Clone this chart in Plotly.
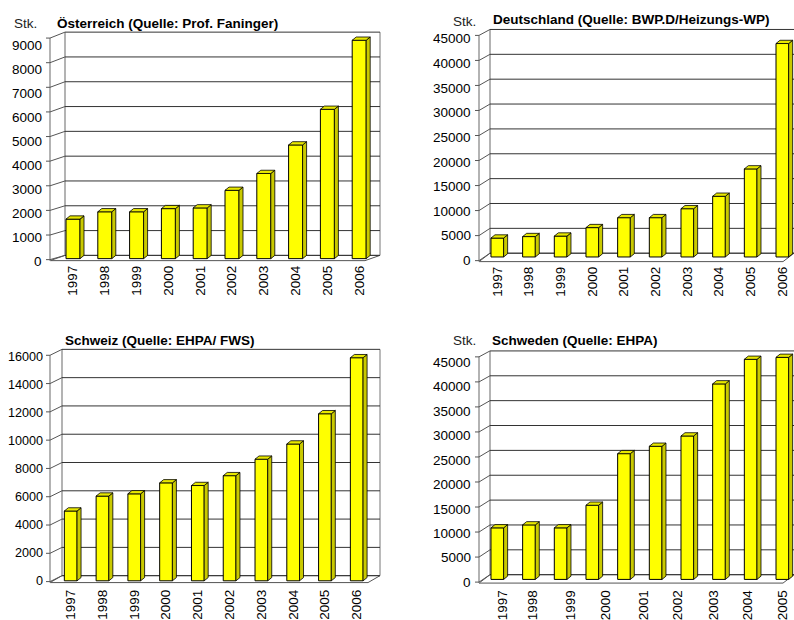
import plotly.graph_objects as go

# ---------------- data ----------------
YEARS = ["1997", "1998", "1999", "2000", "2001", "2002", "2003", "2004", "2005", "2006"]
SE_LABELS = ["1997", "1998", "1999", "2000", "2001", "2002", "2003", "2004", "2005"]

AT_VALUES = [1620, 1920, 1920, 2050, 2080, 2800, 3490, 4660, 6120, 8950]
DE_VALUES = [3800, 4100, 4200, 5900, 7900, 7900, 9700, 12200, 17700, 42900]
CH_VALUES = [4960, 6020, 6180, 6960, 6770, 7470, 8640, 9720, 11870, 15850]
SE_VALUES = [10500, 11100, 10500, 15100, 25600, 27100, 29200, 39800, 44800, 45200]

TITLES = [
    "Österreich (Quelle: Prof. Faninger)",
    "Deutschland (Quelle: BWP.D/Heizungs-WP)",
    "Schweiz (Quelle: EHPA/ FWS)",
    "Schweden (Quelle: EHPA)",
]
Y_MAX = [9000, 45000, 16000, 45000]
Y_STEP = [1000, 5000, 2000, 5000]
UNIT = "Stk."

# ---------------- layout geometry (page pixels) ----------------
FW, FH = 794, 620
FONT = "Liberation Sans, Arial, sans-serif"

GEO = [
    dict(front_x=50, wall_x0=65, wall_x1=380, top=31, back0=256.7, floor=262,
         front0=263.3, fronttop=45, bar0=260, c0=73, step=31.8, bw=0.44,
         title_x=55, title_y=22, unit=(12, 22), se=False, ysize=13.5, lab_r=43, stand=0),
    dict(front_x=479, wall_x0=490, wall_x1=794, top=28.3, back0=254.5, floor=263,
         front0=262, fronttop=37.7, bar0=258.3, c0=497.3, step=31.67, bw=0.40,
         title_x=491, title_y=18, unit=(451, 20), se=False, ysize=13.5, lab_r=472, stand=0),
    dict(front_x=50, wall_x0=62, wall_x1=380, top=351.7, back0=580.5, floor=587.5,
         front0=586, fronttop=359.3, bar0=585.7, c0=70.7, step=31.78, bw=0.40,
         title_x=63, title_y=343, unit=None, se=False, ysize=12.6, lab_r=43.5, stand=2),
    dict(front_x=479, wall_x0=490, wall_x1=794, top=353.3, back0=579.5, floor=588,
         front0=587.3, fronttop=365, bar0=584.3, c0=497.3, step=31.67, bw=0.40,
         title_x=490, title_y=343, unit=(451, 343), se=True, ysize=13.5, lab_r=472, stand=2),
]
BAR_PPU = [24.67 / 1000, 5.03 / 1000, 14.23 / 1000, 4.967 / 1000]
SE_TICK_POS = [0.16, 1.1, 2.32, 3.42, 4.63, 5.68, 6.84, 7.89, 9.0]

ALL_VALUES = [AT_VALUES, DE_VALUES, CH_VALUES, SE_VALUES]


def py(p):
    # small vertical correction of the measured page positions
    return p * 1.007 + 1.5


def px_x(p):
    return min(1.0, max(0.0, p / FW))


def px_y(p):
    return min(1.0, max(0.0, 1 - py(p) / FH))


fig = go.Figure()
layout = {}
shapes = []
annotations = []

GRID = "#333333"
WALL = "#9a9a9a"
TXT = dict(family=FONT, size=13.5, color="#000")

for i in range(4):
    g = GEO[i]
    vals = ALL_VALUES[i]
    n = i + 1
    xname = "x" if n == 1 else f"x{n}"
    yname = "y" if n == 1 else f"y{n}"
    xkey = "xaxis" if n == 1 else f"xaxis{n}"
    ykey = "yaxis" if n == 1 else f"yaxis{n}"
    ymax, step = Y_MAX[i], Y_STEP[i]

    dom_bot = g["floor"] + 1.5
    dom_top = g["top"] - 6
    hpx = py(dom_bot) - py(dom_top)

    kb = (g["back0"] - g["top"]) / ymax          # back wall px per unit
    kf = (g["front0"] - g["fronttop"]) / ymax    # label px per unit
    kbar = BAR_PPU[i] * 1.007                    # bar px per unit
    b0 = -(py(dom_bot) - py(g["bar0"])) / kbar
    r_bar = [b0, b0 + hpx / kbar]

    xr = [(g["wall_x0"] - g["c0"]) / g["step"], (g["wall_x1"] - g["c0"]) / g["step"]]

    if g["se"]:
        tickvals, ticktext = SE_TICK_POS, SE_LABELS
    else:
        tickvals, ticktext = list(range(len(YEARS))), YEARS

    layout[xkey] = dict(
        domain=[px_x(g["wall_x0"]), px_x(g["wall_x1"])], range=xr, anchor=yname,
        showgrid=False, zeroline=False, showline=False, ticks="",
        tickmode="array", tickvals=tickvals, ticktext=ticktext, tickangle=-90,
        tickfont=TXT, fixedrange=True, ticklabelstandoff=g["stand"],
    )
    layout[ykey] = dict(
        domain=[px_y(dom_bot), px_y(dom_top)], range=r_bar, anchor=xname,
        showgrid=False, zeroline=False, showline=False, showticklabels=False,
        ticks="", fixedrange=True,
    )

    # bars (front faces)
    xs = list(range(len(vals)))
    fig.add_trace(go.Bar(
        x=xs, y=vals, xaxis=xname, yaxis=yname, width=g["bw"],
        marker=dict(color="#FFFF00", line=dict(color="#000", width=1)),
        showlegend=False, hoverinfo="skip",
    ))
    # 3D side and top faces derived from the same values
    dx = 4.0 / g["step"]
    dy = 3.3 / kbar
    hw = g["bw"] / 2
    sx, sy, tx, ty = [], [], [], []
    for xi, v in zip(xs, vals):
        xl, xrr = xi - hw, xi + hw
        sx += [xrr, xrr + dx, xrr + dx, xrr, xrr, None]
        sy += [0, dy, v + dy, v, 0, None]
        tx += [xl, xl + dx, xrr + dx, xrr, xl, None]
        ty += [v, v + dy, v + dy, v, v, None]
    fig.add_trace(go.Scatter(
        x=sx, y=sy, xaxis=xname, yaxis=yname, mode="lines", fill="toself",
        fillcolor="#C9C900", line=dict(color="#000", width=0.8),
        showlegend=False, hoverinfo="skip",
    ))
    fig.add_trace(go.Scatter(
        x=tx, y=ty, xaxis=xname, yaxis=yname, mode="lines", fill="toself",
        fillcolor="#E8E800", line=dict(color="#000", width=0.8),
        showlegend=False, hoverinfo="skip",
    ))

    # ---- decoration: floor, walls, gridlines, front axis ----
    depth_x = g["wall_x0"] - g["front_x"]
    fl = (f"M {px_x(g['front_x'])} {px_y(g['floor'])} "
          f"L {px_x(g['wall_x1'] - depth_x)} {px_y(g['floor'])} "
          f"L {px_x(g['wall_x1'])} {px_y(g['back0'])} "
          f"L {px_x(g['wall_x0'])} {px_y(g['back0'])} Z")
    shapes.append(dict(type="path", path=fl, xref="paper", yref="paper",
                       fillcolor="#ffffff", line=dict(color="#555", width=1), layer="below"))
    shapes.append(dict(type="line", xref="paper", yref="paper",
                       x0=px_x(g["wall_x0"]), x1=px_x(g["wall_x0"]),
                       y0=px_y(g["top"]), y1=px_y(g["back0"]),
                       line=dict(color=WALL, width=1.5), layer="below"))
    if g["wall_x1"] < FW - 2:
        shapes.append(dict(type="line", xref="paper", yref="paper",
                           x0=px_x(g["wall_x1"]), x1=px_x(g["wall_x1"]),
                           y0=px_y(g["top"]), y1=px_y(g["back0"]),
                           line=dict(color="#777", width=1), layer="below"))
    ft0 = g["floor"] - 1
    ftt = g["top"] + 6
    shapes.append(dict(type="line", xref="paper", yref="paper",
                       x0=px_x(g["front_x"]), x1=px_x(g["front_x"]),
                       y0=px_y(ftt), y1=px_y(g["floor"]),
                       line=dict(color=WALL, width=1.5), layer="below"))
    v = 0
    while v <= ymax + 1e-9:
        fpy = ft0 - v * (ft0 - ftt) / ymax
        bpy = g["back0"] - v * kb
        # gridline on back wall
        shapes.append(dict(type="line", xref="paper", yref="paper",
                           x0=px_x(g["wall_x0"]), x1=px_x(g["wall_x1"]),
                           y0=px_y(bpy), y1=px_y(bpy),
                           line=dict(color=GRID, width=1), layer="below"))
        # left wall diagonal + tick
        p = (f"M {px_x(g['front_x'] - 4)} {px_y(fpy)} L {px_x(g['front_x'])} {px_y(fpy)} "
             f"L {px_x(g['wall_x0'])} {px_y(bpy)}")
        shapes.append(dict(type="path", path=p, xref="paper", yref="paper",
                           line=dict(color="#555", width=1), layer="below"))
        # tick label
        annotations.append(dict(
            text=str(v), xref="paper", yref="paper",
            x=px_x(g["lab_r"]), y=px_y(g["front0"] - v * kf),
            xanchor="right", yanchor="middle", showarrow=False,
            font=dict(family=FONT, size=g["ysize"], color="#000"), borderpad=0,
        ))
        v += step

    annotations.append(dict(
        text=f"<b>{TITLES[i]}</b>", xref="paper", yref="paper",
        x=px_x(g["title_x"]), y=px_y(g["title_y"]), xanchor="left", yanchor="middle",
        showarrow=False, font=TXT,
    ))
    if g["unit"] is not None:
        annotations.append(dict(
            text=UNIT, xref="paper", yref="paper",
            x=px_x(g["unit"][0]), y=px_y(g["unit"][1]), xanchor="left", yanchor="middle",
            showarrow=False, font=dict(family=FONT, size=13.5, color="#222"),
        ))

fig.update_layout(
    width=FW, height=FH, margin=dict(l=0, r=0, t=0, b=0),
    paper_bgcolor="#ffffff", plot_bgcolor="rgba(0,0,0,0)",
    showlegend=False, shapes=shapes, annotations=annotations, barmode="overlay",
    hovermode=False, **layout,
)

# remove the browser's default 8px body margin so the figure fills the window exactly
fig.write_html(
    "out.html",
    config={"displayModeBar": False, "staticPlot": True},
    post_script="document.body.style.margin='0';document.body.style.overflow='hidden';",
)
